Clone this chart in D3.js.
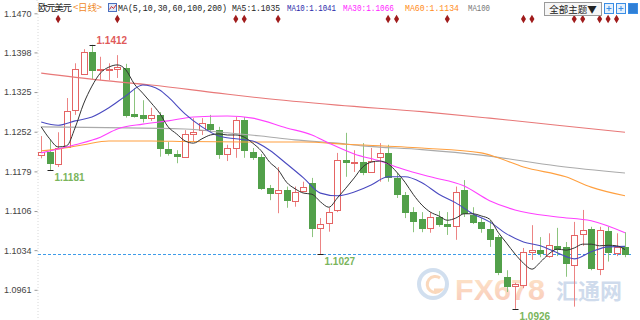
<!DOCTYPE html>
<html>
<head>
<meta charset="utf-8">
<script src="https://cdn.jsdelivr.net/npm/d3@7"></script>
<style>
body { margin: 0; background: #fff; }
svg { display: block; font-family: "Liberation Sans", Arial, sans-serif; }
</style>
</head>
<body>
<svg id="chart" width="640" height="320"></svg>
<script>
// y tick labels
const yTicks = [1.1470, 1.1398, 1.1325, 1.1252, 1.1179, 1.1106, 1.1034, 1.0961];

// daily candles
const opens  = [1.1210,1.1214,1.1193,1.1224,1.1292,1.1358,1.1399,1.1367,1.1367,1.1368,
                1.1370,1.1285,1.1283,1.1278,1.1283,1.1220,1.1211,1.1206,1.1248,1.1255,
                1.1266,1.1255,1.1211,1.1222,1.1274,1.1215,1.1206,1.1149,1.1140,1.1145,
                1.1124,1.1143,1.1158,1.1075,1.1084,1.1108,1.1200,1.1195,1.1196,1.1178,
                1.1206,1.1213,1.1167,1.1136,1.1104,1.1091,1.1075,1.1095,1.1082,1.1078,
                1.1145,1.1099,1.1086,1.1073,1.1058,1.0985,1.0968,1.0970,1.1031,1.1034,
                1.1023,1.1042,1.1040,1.1007,1.1064,1.1073,1.0999,1.1069,1.1029,1.1040];
const highs  = [1.1244,1.1237,1.1251,1.1314,1.1378,1.1404,1.1412,1.1390,1.1378,1.1393,
                1.1377,1.1332,1.1310,1.1296,1.1288,1.1233,1.1218,1.1255,1.1277,1.1277,
                1.1283,1.1261,1.1228,1.1279,1.1279,1.1222,1.1211,1.1154,1.1187,1.1151,
                1.1151,1.1160,1.1167,1.1093,1.1112,1.1213,1.1250,1.1218,1.1231,1.1222,
                1.1231,1.1228,1.1176,1.1141,1.1113,1.1104,1.1104,1.1106,1.1104,1.1151,
                1.1163,1.1113,1.1093,1.1089,1.1062,1.0997,1.0974,1.1038,1.1080,1.1058,
                1.1065,1.1075,1.1049,1.1086,1.1108,1.1077,1.1077,1.1077,1.1065,1.1067];
const lows   = [1.1203,1.1181,1.1187,1.1222,1.1283,1.1357,1.1349,1.1347,1.1347,1.1351,
                1.1278,1.1278,1.1269,1.1272,1.1206,1.1208,1.1194,1.1204,1.1233,1.1246,
                1.1251,1.1202,1.1198,1.1204,1.1204,1.1200,1.1145,1.1126,1.1102,1.1112,
                1.1114,1.1140,1.1058,1.1027,1.1068,1.1104,1.1169,1.1178,1.1172,1.1178,
                1.1160,1.1160,1.1130,1.1093,1.1067,1.1067,1.1066,1.1077,1.1062,1.1053,
                1.1095,1.1082,1.1066,1.1040,1.0988,1.0957,1.0926,1.0964,1.1016,1.1021,
                1.1020,1.1023,1.0985,1.0930,1.1042,1.0997,1.0988,1.1013,1.1023,1.1021];
const closes = [1.1215,1.1194,1.1222,1.1290,1.1367,1.1399,1.1366,1.1368,1.1368,1.1372,
                1.1283,1.1282,1.1278,1.1283,1.1222,1.1213,1.1207,1.1248,1.1252,1.1268,
                1.1257,1.1211,1.1222,1.1274,1.1218,1.1206,1.1149,1.1140,1.1145,1.1126,
                1.1141,1.1150,1.1075,1.1082,1.1104,1.1200,1.1196,1.1196,1.1178,1.1198,
                1.1213,1.1169,1.1137,1.1104,1.1088,1.1075,1.1095,1.1082,1.1078,1.1141,
                1.1102,1.1086,1.1075,1.1055,1.0994,1.0968,1.0972,1.1031,1.1034,1.1029,
                1.1043,1.1036,1.1010,1.1062,1.1071,1.1001,1.1071,1.1031,1.1040,1.1027];

// moving averages
const ma5 = [1.1261,1.1239,1.1224,1.1226,1.1259,1.1303,1.1336,1.1360,1.1371,1.1375,
             1.1366,1.1340,1.1323,1.1305,1.1286,1.1261,1.1248,1.1235,1.1231,1.1239,
             1.1246,1.1248,1.1246,1.1246,1.1242,1.1231,1.1217,1.1196,1.1182,1.1159,
             1.1147,1.1139,1.1137,1.1123,1.1113,1.1130,1.1148,1.1167,1.1187,1.1196,
             1.1198,1.1193,1.1178,1.1159,1.1136,1.1117,1.1104,1.1097,1.1089,1.1093,
             1.1101,1.1101,1.1097,1.1091,1.1067,1.1047,1.1027,1.1010,1.0999,1.1012,
             1.1027,1.1036,1.1034,1.1038,1.1045,1.1045,1.1042,1.1043,1.1042,1.1035];
const ma10 = [[0,1.1270],[2,1.1264],[4,1.1272],[6,1.1279],[8,1.1296],[10,1.1318],[12,1.1338],
              [14,1.1329],[15,1.1316],[17,1.1285],[19,1.1261],[21,1.1244],[23,1.1239],[25,1.1235],
              [27,1.1218],[29,1.1193],[31,1.1167],[33,1.1139],[35,1.1134],[37,1.1141],[39,1.1154],
              [41,1.1169],[43,1.1169],[45,1.1158],[47,1.1137],[49,1.1121],[51,1.1101],[53,1.1086],
              [55,1.1064],[57,1.1049],[59,1.1042],[61,1.1029],[63,1.1018],[65,1.1031],[67,1.1040],[69,1.1041]];
const ma30 = [[0,1.1213],[4,1.1228],[7,1.1242],[9,1.1257],[12,1.1266],[15,1.1272],[18,1.1279],
              [22,1.1281],[25,1.1277],[29,1.1259],[32,1.1246],[34,1.1231],[37,1.1211],[40,1.1198],
              [43,1.1182],[46,1.1169],[50,1.1152],[53,1.1125],[56,1.1108],[61,1.1095],[65,1.1088],[69,1.1066]];
const ma60 = [[0,1.1217],[2,1.1220],[5,1.1228],[8,1.1235],[13,1.1235],[17,1.1234],[24,1.1233],
              [31,1.1233],[36,1.1229],[45,1.1222],[52,1.1213],[54,1.1204],[57,1.1187],[62,1.1169],
              [65,1.1150],[69,1.1134]];
const ma100 = [[0,1.1261],[17,1.1257],[22,1.1250],[26,1.1244],[30,1.1237],[35,1.1231],[38,1.1226],
               [45,1.1219],[52,1.1209],[61,1.1189],[69,1.1176]];
const ma200 = [[0,1.1360],[7,1.1347],[13,1.1338],[21,1.1323],[26,1.1314],[35,1.1301],[45,1.1289],
               [53,1.1277],[61,1.1264],[69,1.1251]];

// event diamonds (candle index) and labelled highs / lows
const eventIdx = [2, 9, 23, 24, 28, 41, 42, 48, 57, 58, 63, 64, 66, 67, 68];
const markIdx  = [6, 1, 33, 56];
const markKind = ["high", "low", "low", "low"];

const legendNames  = ["MA5:", "MA10:", "MA30:", "MA60:", "MA100"];
const legendValues = ["1.1035", "1.1041", "1.1066", "1.1134", ""];

const svg = d3.select("#chart");
const n = opens.length;

const x = d3.scalePoint().domain(d3.range(n)).range([41.2, 625]);
const y = d3.scaleLinear().domain([1.09054, 1.14945]).range([320, 0]);

const upColor = "#e46464", upWick = "#ec8484";
const downColor = "#52a04a", downWick = "#8cc47e";

// watermark
const wm = svg.append("g").attr("opacity", 0.4);
wm.append("circle").attr("cx", 433).attr("cy", 284).attr("r", 14)
    .attr("fill", "none").attr("stroke", "#8fb0d8").attr("stroke-width", 4);
wm.append("path").attr("d", "M440,278 A8,8 0 1 0 441,290 L434,290")
    .attr("fill", "none").attr("stroke", "#f5a05a").attr("stroke-width", 3);
const grad = svg.append("defs").append("linearGradient").attr("id", "wmg")
    .attr("x1", "0").attr("x2", "0").attr("y1", "0").attr("y2", "1");
grad.append("stop").attr("offset", "0").attr("stop-color", "#fbc37a");
grad.append("stop").attr("offset", "1").attr("stop-color", "#f27a55");
wm.append("text").attr("x", 455).attr("y", 300).text("FX678")
    .attr("font-size", 30).attr("font-weight", "bold")
    .attr("textLength", 90).attr("lengthAdjust", "spacingAndGlyphs")
    .attr("fill", "url(#wmg)");
wm.append("text").attr("x", 556).attr("y", 299).text("汇通网")
    .attr("font-family", "Noto Sans CJK SC").attr("font-size", 22).attr("font-weight", "bold")
    .attr("textLength", 66).attr("fill", "#8aa8d2");

// y axis
const yAxis = d3.axisLeft(y).tickValues(yTicks).tickFormat(d3.format(".4f")).tickSize(3);
const ax = svg.append("g").attr("transform", "translate(37.5,0)").call(yAxis);
ax.select(".domain").attr("stroke", "#d8d8d8").attr("stroke-dasharray", "1,2");
ax.selectAll(".tick line").attr("stroke", "#999");
ax.selectAll(".tick text").attr("fill", "#444").attr("font-size", 9)
    .attr("font-family", "Liberation Sans, Arial, sans-serif");

// last price line
svg.append("line")
    .attr("x1", 38).attr("x2", 632)
    .attr("y1", Math.round(y(closes[n - 1])) + 0.5).attr("y2", Math.round(y(closes[n - 1])) + 0.5)
    .attr("stroke", "#3d9be9").attr("stroke-dasharray", "3,2");

// candles
const candles = svg.append("g").selectAll("g").data(d3.range(n)).enter().append("g");
candles.append("line")
    .attr("x1", i => Math.round(x(i)) + 0.5).attr("x2", i => Math.round(x(i)) + 0.5)
    .attr("y1", i => y(highs[i])).attr("y2", i => y(lows[i]))
    .attr("stroke", i => closes[i] >= opens[i] ? upWick : downWick);
candles.append("rect")
    .attr("x", i => Math.round(x(i)) - 2.5)
    .attr("width", 6)
    .attr("y", i => Math.round(y(Math.max(opens[i], closes[i]))) + 0.5)
    .attr("height", i => Math.max(1, Math.round(Math.abs(y(opens[i]) - y(closes[i])))))
    .attr("fill", i => closes[i] >= opens[i] ? "#fff" : downColor)
    .attr("stroke", i => closes[i] >= opens[i] ? upColor : downColor);

// moving average lines
const lineDense = d3.line().x((d, i) => x(i)).y(d => y(d)).curve(d3.curveMonotoneX);
const lineSparse = d3.line().x(d => x(d[0])).y(d => y(d[1])).curve(d3.curveMonotoneX);
const maLines = [
    [ma200, "#e87878"], [ma100, "#aaaaaa"], [ma60, "#ffa040"],
    [ma30, "#ff40ff"], [ma10, "#4a4ac0"]
];
maLines.forEach(([data, color]) => {
    svg.append("path").datum(data).attr("d", lineSparse)
        .attr("fill", "none").attr("stroke", color).attr("stroke-width", 1.1);
});
svg.append("path").datum(ma5).attr("d", lineDense)
    .attr("fill", "none").attr("stroke", "#333").attr("stroke-width", 1);

// high / low annotations
markIdx.forEach((i, k) => {
    const isHigh = markKind[k] === "high";
    const v = isHigh ? highs[i] : lows[i];
    const cx = Math.round(x(i)) + 0.5, cy = Math.round(y(v)) + 0.5;
    svg.append("line").attr("x1", cx - 3).attr("x2", cx + 3).attr("y1", cy).attr("y2", cy)
        .attr("stroke", "#222");
    svg.append("text")
        .attr("x", cx + 4).attr("y", isHigh ? cy - 2 : cy + 10)
        .attr("font-size", 10).attr("font-weight", "bold")
        .attr("fill", isHigh ? "#e05a5a" : "#7ab55c")
        .text(d3.format(".4f")(v));
});

// event diamonds
svg.append("g").selectAll("path").data(eventIdx).enter().append("path")
    .attr("d", d3.symbol().type(d3.symbolDiamond).size(22))
    .attr("transform", i => `translate(${x(i)},19)`)
    .attr("fill", "#a01c1c");

// header / legend
const head = svg.append("g").attr("font-size", 9.5);
head.append("text").attr("x", 38).attr("y", 11).text("欧元美元")
    .attr("font-family", "Noto Sans CJK SC").attr("fill", "#222").attr("textLength", 34);
head.append("text").attr("x", 73).attr("y", 11).text("<日线>")
    .attr("font-family", "Noto Sans CJK SC").attr("fill", "#f08a2a").attr("textLength", 29);
head.append("rect").attr("x", 108.5).attr("y", 3.5).attr("width", 8).attr("height", 8)
    .attr("fill", "#dfe9f7").attr("stroke", "#4b6fc0");
head.append("path").attr("d", "M109.5,9.5 L111.5,6.5 L113.5,8.5 L116,5")
    .attr("fill", "none").attr("stroke", "#d03030");
head.append("text").attr("x", 118).attr("y", 11).text("MA(5,10,30,60,100,200)")
    .attr("font-family", "Liberation Mono, monospace").attr("fill", "#222")
    .attr("font-size", 8.5)
    .attr("textLength", 109).attr("lengthAdjust", "spacingAndGlyphs");

const legendX = [232, 287, 343, 405, 468];
const legendW = [48, 49, 51, 54, 22];
const legendColors = ["#222", "#2a2aaa", "#ff22ff", "#ff8c1a", "#777"];
legendNames.forEach((name, k) => {
    head.append("text").attr("x", legendX[k]).attr("y", 11)
        .text(name + legendValues[k])
        .attr("font-family", "Liberation Mono, monospace")
        .attr("font-size", 8.5)
        .attr("fill", legendColors[k])
        .attr("textLength", legendW[k]).attr("lengthAdjust", "spacingAndGlyphs");
});

// toolbar
svg.append("rect").attr("x", 544.5).attr("y", 2.5).attr("width", 57).attr("height", 13)
    .attr("fill", "#f6f6f6").attr("stroke", "#9a9a9a");
svg.append("text").attr("x", 573).attr("y", 12.5).attr("text-anchor", "middle")
    .attr("font-family", "Noto Sans CJK SC").attr("font-size", 9.5).attr("fill", "#222")
    .text("全部主题▼");
[604, 616, 628].forEach((bx, k) => {
    svg.append("rect").attr("x", bx + 0.5).attr("y", 3.5).attr("width", 9).attr("height", 10)
        .attr("fill", k === 2 ? "#2f7fd6" : "#e4f0fc").attr("stroke", "#3a8ee6");
    if (k < 2) {
        svg.append("path")
            .attr("d", `M${bx + 2.5},8.5 H${bx + 7.5} M${bx + 5},6 V11`)
            .attr("stroke", "#3a8ee6");
    }
});
</script>
</body>
</html>
